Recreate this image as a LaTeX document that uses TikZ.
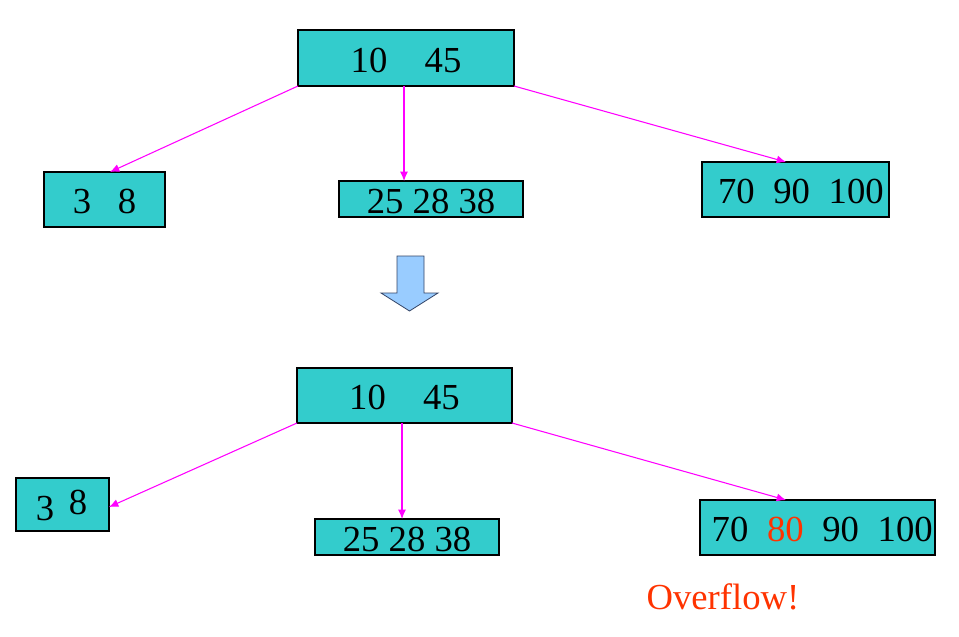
\documentclass[tikz,border=0pt]{standalone}
\usepackage{fontspec}
\setmainfont{Liberation Serif}
\usetikzlibrary{arrows.meta}
\definecolor{boxfill}{HTML}{33CCCC}
\definecolor{linkcol}{HTML}{FF00FF}
\definecolor{alertred}{HTML}{FF3300}
\definecolor{bigarrowfill}{HTML}{99CCFF}
\definecolor{bigarrowline}{HTML}{334466}
\begin{document}
\begin{tikzpicture}[x=0.75pt,y=-0.75pt,
  keybox/.style={draw=black,line width=0.8pt,fill=boxfill,anchor=north west,inner sep=0pt,outer sep=0pt,
    text height=21.5pt,text depth=0pt,
    font=\fontsize{27.5}{33}\selectfont},
  link/.style={draw=linkcol,line width=0.8pt,-{Latex[length=7pt,width=6pt]}},
  numtext/.style={inner sep=0pt,font=\fontsize{27.5}{33}\selectfont}
]
\useasboundingbox (0,0) rectangle (959,636);
% top tree
\node[keybox,minimum width=216*0.75pt,minimum height=56*0.75pt] (r1) at (298,30) {10\hspace{28pt}45};
\node[keybox,minimum width=121*0.75pt,minimum height=55*0.75pt] (a1) at (44,172) {3\hspace{20pt}8};
\node[keybox,minimum width=184*0.75pt,minimum height=36*0.75pt] (b1) at (339,181) {25 28 38};
\node[keybox,minimum width=187*0.75pt,minimum height=55*0.75pt] (c1) at (702,162) {\hspace{8pt}70\hspace{14pt}90\hspace{14pt}100};
\coordinate (r1l) at (298,86);
\coordinate (r1m) at (404,86);
\coordinate (r1r) at (514,86);
\coordinate (a1t) at (110,172);
\coordinate (b1t) at (404,181);
\coordinate (c1t) at (786,162);
\draw[link] (r1l) -- (a1t);
\draw[link] (r1m) -- (b1t);
\draw[link] (r1r) -- (c1t);
% big arrow
\draw[fill=bigarrowfill,draw=bigarrowline,line width=0.6pt,line join=miter]
  (397,256) -- (424,256) -- (424,293) -- (438,293) -- (409.5,311) -- (381,293) -- (397,293) -- cycle;
% bottom tree
\node[keybox,minimum width=215*0.75pt,minimum height=55*0.75pt] (r2) at (297,368) {10\hspace{28pt}45};
\node[keybox,minimum width=93*0.75pt,minimum height=53*0.75pt] (a2) at (16,478) {};
\node[numtext] (a2x) at (45,509) {3};
\node[numtext] (a2y) at (78,502) {8};
\node[keybox,minimum width=184*0.75pt,minimum height=36*0.75pt] (b2) at (315,519) {25 28 38};
\node[keybox,minimum width=235*0.75pt,minimum height=55*0.75pt] (c2) at (700,500) {\hspace{7pt}70\hspace{14pt}\textcolor{alertred}{80}\hspace{14pt}90\hspace{14pt}100};
\coordinate (r2l) at (297,423);
\coordinate (r2m) at (402,423);
\coordinate (r2r) at (512,423);
\coordinate (a2r) at (109,507);
\coordinate (b2t) at (402,519);
\coordinate (c2t) at (786,500);
\draw[link] (r2l) -- (a2r);
\draw[link] (r2m) -- (b2t);
\draw[link] (r2r) -- (c2t);
\node[numtext,text=alertred] (ovf) at (723,597) {Overflow!};
\end{tikzpicture}
\end{document}
